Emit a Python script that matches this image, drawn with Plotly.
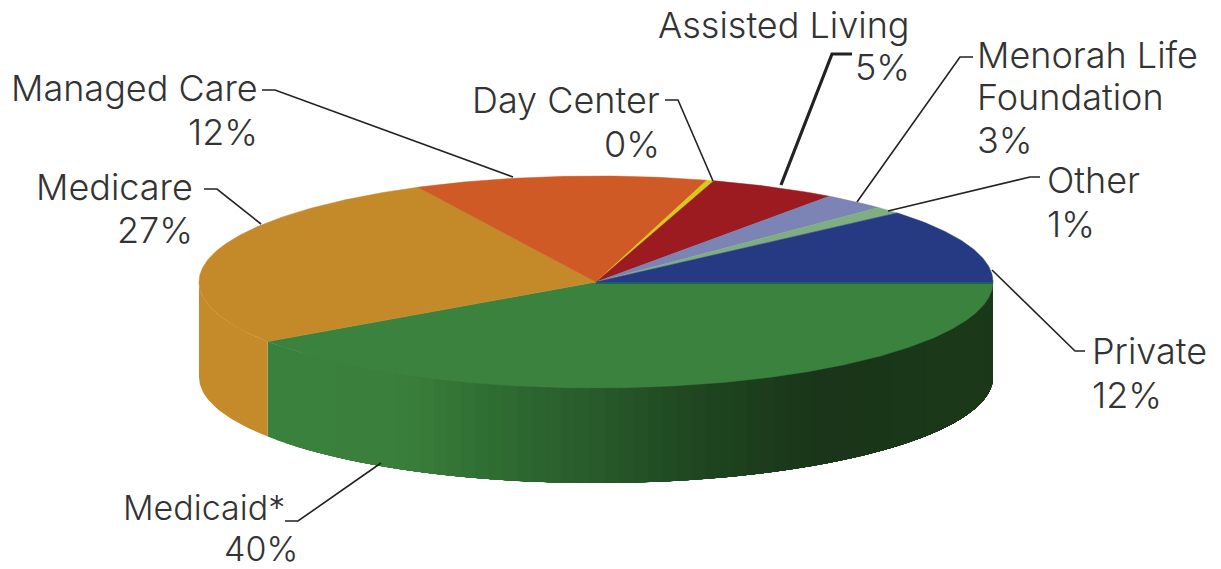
import numpy as np
import plotly.graph_objects as go

# ---- data ----
categories = ["Medicaid*", "Medicare", "Managed Care", "Day Center",
              "Assisted Living", "Menorah Life Foundation", "Other", "Private"]
printed_percent = [40, 27, 12, 0, 5, 3, 1, 12]
# slice sizes as actually drawn in the picture (estimated)
drawn_share = [40.5, 27.1, 11.9, 0.3, 5.2, 2.6, 1.1, 11.3]
top_colors = ["#3a823e", "#c48a2a", "#cf5a25", "#d8c81e",
              "#9c1b20", "#7c83b5", "#7fae83", "#263a84"]

# ---- layout / style ----
CX, CY, A, B, DEPTH = 596, 282, 397, 106, 95
TEXT = "#333333"
FONT = "Inter"
FS = 36
FS_SMALL = 34
green_stops_x = [268, 400, 500, 600, 700, 820, 992]
green_stops_c = [(58, 130, 62), (58, 128, 60), (47, 108, 50), (40, 90, 43),
                 (31, 70, 32), (26, 53, 25), (28, 58, 26)]
orange_side = "#c58a29"


def px(t):
    return CX + A * np.cos(np.radians(t))


def py(t, drop=0):
    return CY - B * np.sin(np.radians(t)) + drop


def green_at(x):
    ch = [np.interp(x, green_stops_x, [c[i] for c in green_stops_c]) for i in range(3)]
    return "rgb(%d,%d,%d)" % tuple(ch)


fig = go.Figure()


def poly(xs, ys, color, lw=0.8):
    fig.add_trace(go.Scatter(x=xs, y=ys, mode="lines", fill="toself", fillcolor=color,
                             line=dict(color=color, width=lw),
                             hoverinfo="skip", showlegend=False))


# slice edges, clockwise from the east point
sweep = 360 * np.array(drawn_share) / sum(drawn_share)
edges = -np.concatenate([[0], np.cumsum(sweep)])

# side wall: Medicaid (gradient); painted from the left, each band runs on to the
# right end so that no seams appear between bands
seg = np.linspace(edges[1], edges[0], 70)
for t0, t1 in zip(seg[:-1], seg[1:]):
    ts = np.linspace(t0, edges[0], 60)
    xs = list(px(ts)) + list(px(ts[::-1])) + [px(ts[0])]
    ys = list(py(ts)) + list(py(ts[::-1], DEPTH)) + [py(ts[0])]
    poly(xs, ys, green_at(px((t0 + t1) / 2)), lw=0)

# side wall: Medicare, from the Medicaid edge to the far-left point
ts = np.linspace(edges[1], -180, 40)
poly(list(px(ts)) + list(px(ts[::-1])) + [px(ts[0])],
     list(py(ts)) + list(py(ts[::-1], DEPTH)) + [py(ts[0])], orange_side, lw=0)

# top faces
for i, color in enumerate(top_colors):
    ts = np.linspace(edges[i], edges[i + 1], max(3, int(abs(sweep[i]) * 2)))
    poly([CX] + list(px(ts)) + [CX], [CY] + list(py(ts)) + [CY], color, lw=0.5)

# thin seam between Private and Medicaid
fig.add_trace(go.Scatter(x=[CX, px(0)], y=[CY + 1, CY + 1], mode="lines",
                         line=dict(color="#1f5f60", width=2),
                         hoverinfo="skip", showlegend=False))

# ---- leader lines ----
leaders = [
    ("M262,90 L275,90 L513,177", 1.6),
    ("M204,189 L217,189 L261,224", 1.6),
    ("M285,521 L298,521 L381,463", 1.6),
    ("M665,100 L678,100 L713,181", 1.6),
    ("M852,54 L832,54 L781,185", 3.2),
    ("M973,57 L960,57 L857,202", 1.6),
    ("M1040,177 L1030,177 L888,211", 1.6),
    ("M1085,351 L1075,351 L992,270", 1.6),
]
shapes = [dict(type="path", path=p, xref="x", yref="y",
               line=dict(color="#222222", width=w)) for p, w in leaders]

# ---- labels: (text, x, y, anchor, size) ----
P = printed_percent
text_lines = [
    ("Managed Care", 260, 88, "right", FS), (f"{P[2]}%", 260, 132, "right", FS),
    ("Medicare", 195, 187, "right", FS), (f"{P[1]}%", 195, 230, "right", FS),
    ("Medicaid*", 287, 507, "right", FS_SMALL), (f"{P[0]}%", 300, 548, "right", FS_SMALL),
    ("Day Center", 662, 100, "right", FS), (f"{P[3]}%", 662, 144, "right", FS),
    ("Assisted Living", 912, 25, "right", FS), (f"{P[4]}%", 912, 67, "right", FS),
    ("Menorah Life", 975, 55, "left", FS), ("Foundation", 975, 97, "left", FS), (f"{P[5]}%", 975, 140, "left", FS),
    ("Other", 1045, 180, "left", FS), (f"{P[6]}%", 1045, 224, "left", FS),
    ("Private", 1090, 351, "left", FS), (f"{P[7]}%", 1090, 395, "left", FS),
]
annotations = [dict(text=t, x=x, y=y, xref="x", yref="y", showarrow=False,
                    xanchor=a, yanchor="middle",
                    font=dict(family=FONT, size=s, color=TEXT, weight=300))
               for t, x, y, a, s in text_lines]

fig.update_layout(
    width=1221, height=569, autosize=False,
    margin=dict(l=0, r=0, t=0, b=0),
    paper_bgcolor="white", plot_bgcolor="white",
    showlegend=False,
    xaxis=dict(range=[0, 1221], visible=False, fixedrange=True),
    yaxis=dict(range=[569, 0], visible=False, fixedrange=True),
    shapes=shapes, annotations=annotations,
)
# remove the page's default body margin so the plot fills the window exactly
fig.write_html("out.html", config={"displayModeBar": False},
               post_script="document.body.style.margin='0';document.body.style.overflow='hidden';")
